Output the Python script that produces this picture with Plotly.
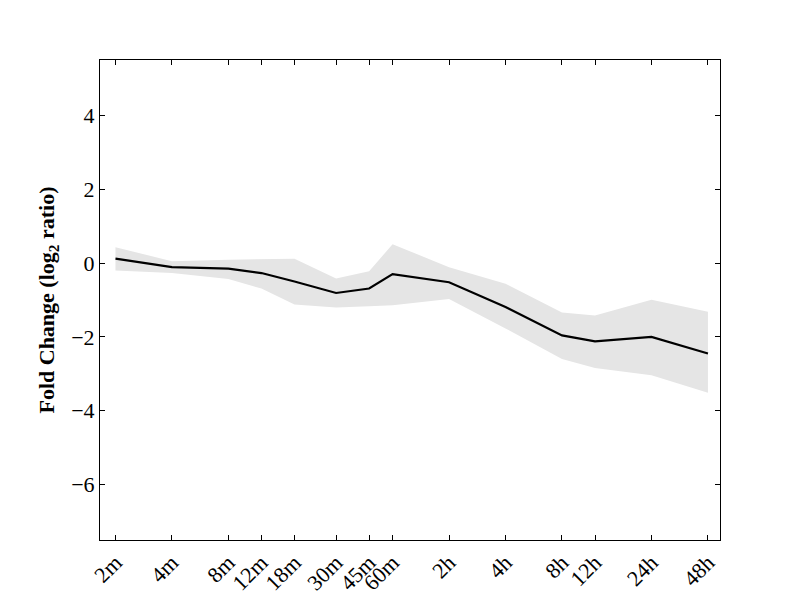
import math
import plotly.graph_objects as go

time_labels = ["2m", "4m", "8m", "12m", "18m", "30m", "45m", "60m",
               "2h", "4h", "8h", "12h", "24h", "48h"]
times_min = [2, 4, 8, 12, 18, 30, 45, 60, 120, 240, 480, 720, 1440, 2880]
mean_fc = [0.12, -0.11, -0.15, -0.27, -0.50, -0.81, -0.69, -0.30,
           -0.52, -1.19, -1.96, -2.12, -2.00, -2.45]
upper_fc = [0.43, 0.05, 0.09, 0.10, 0.12, -0.42, -0.22, 0.51,
            -0.11, -0.56, -1.34, -1.42, -0.99, -1.32]
lower_fc = [-0.20, -0.27, -0.43, -0.69, -1.12, -1.20, -1.17, -1.14,
            -0.97, -1.77, -2.60, -2.84, -3.04, -3.51]
y_ticks = [-6, -4, -2, 0, 2, 4]

fig = go.Figure()
fig.add_trace(go.Scatter(x=times_min, y=lower_fc, mode="lines",
                         line=dict(width=0, color="#e5e5e5"),
                         showlegend=False, hoverinfo="skip"))
fig.add_trace(go.Scatter(x=times_min, y=upper_fc, mode="lines",
                         line=dict(width=0, color="#e5e5e5"),
                         fill="tonexty", fillcolor="#e5e5e5",
                         showlegend=False, hoverinfo="skip"))
fig.add_trace(go.Scatter(x=times_min, y=mean_fc, mode="lines",
                         line=dict(width=2.2, color="black"),
                         showlegend=False))

font_family = "Liberation Serif, DejaVu Serif, serif"
fig.update_layout(
    width=800, height=600,
    margin=dict(l=92, r=88, t=52, b=68),
    paper_bgcolor="white", plot_bgcolor="white",
    font=dict(family=font_family, color="black", size=22),
    xaxis=dict(type="log",
               range=[math.log10(1.654), math.log10(3339)],
               tickvals=times_min, ticktext=time_labels, tickangle=-45,
               ticks="inside", ticklen=5, tickcolor="black",
               showline=True, linecolor="black", linewidth=1, mirror="allticks",
               showgrid=False, zeroline=False,
               tickfont=dict(size=22)),
    yaxis=dict(range=[-7.5, 5.5], tickvals=y_ticks,
               ticks="inside", ticklen=5, tickcolor="black",
               showline=True, linecolor="black", linewidth=1, mirror="allticks",
               showgrid=False, zeroline=False,
               tickfont=dict(size=22),
               title=dict(text="<b>Fold Change (log<sub>2</sub> ratio)</b>",
                          font=dict(size=22), standoff=10)),
)
fig.write_html("out.html")
